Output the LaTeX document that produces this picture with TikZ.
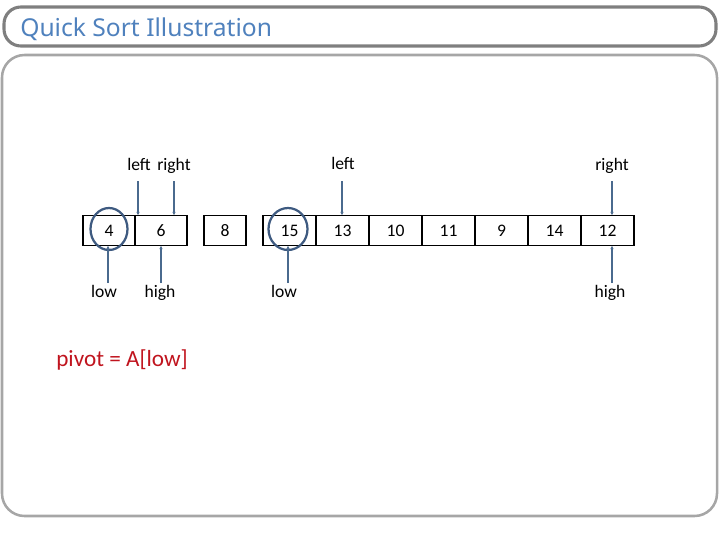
\documentclass[tikz,border=0pt]{standalone}
\usepackage{fontspec}
\setmainfont{Carlito}
\newfontfamily\titlefont{Noto Sans}
\usetikzlibrary{positioning, arrows.meta}

\definecolor{framedark}{HTML}{7F7F7F}
\definecolor{framelight}{HTML}{A6A6A6}
\definecolor{titleblue}{HTML}{4F81BD}
\definecolor{ptrblue}{HTML}{4A6A8E}
\definecolor{ringblue}{HTML}{3E5A80}
\definecolor{pivotred}{HTML}{C0141E}

\begin{document}
\begin{tikzpicture}[x=0.025cm, y=-0.025cm,
    every node/.style={font=\fontsize{12.5}{14}\selectfont},
    cell/.style={rectangle, draw, line width=1.1pt, outer sep=0pt, minimum width=1.325cm, minimum height=0.75cm, inner sep=0pt},
    lbl/.style={inner sep=1pt, text height=1.6ex, text depth=0.4ex},
    ptr/.style={-{Latex[length=2.5pt, width=2.5pt]}, line width=1.1pt, draw=ptrblue, fill=ptrblue},
    ring/.style={draw=ringblue, line width=1.6pt},
    titlebox/.style={draw=framedark, line width=2.2pt, rounded corners=12},
    bodybox/.style={draw=framelight, line width=1.8pt, rounded corners=16}]

  \useasboundingbox (0,0) rectangle (720,540);

  % frames
  \draw[titlebox] (4,7) rectangle (716,46);
  \draw[bodybox] (2,55) rectangle (717,516);
  \node[anchor=west, text=titleblue, font=\titlefont\fontsize{17.5}{20}\selectfont, inner sep=0pt] (title) at (20,29) {Quick Sort Illustration};

  % first part: 4 6 | 8
  \node[cell, minimum width=1.3cm] (c4) at (109,230.5) {4};
  \node[cell, minimum width=1.3cm, right=0pt of c4] (c6) {6};
  \node[cell, minimum width=1.05cm] (c8) at (225,230.5) {8};

  % second part
  \node[cell] (c15) at (289.5,230.5) {15};
  \node[cell, right=0pt of c15] (c13) {13};
  \node[cell, right=0pt of c13] (c10) {10};
  \node[cell, right=0pt of c10] (c11) {11};
  \node[cell, right=0pt of c11] (c9)  {9};
  \node[cell, right=0pt of c9]  (c14) {14};
  \node[cell, right=0pt of c14] (c12) {12};

  % pivots
  \draw[ring] (109,229) ellipse [x radius=18.5, y radius=21];
  \draw[ring] (288,229) ellipse [x radius=19.5, y radius=21];

  % labels
  \node[lbl] (left1)  at (139,166) {left};
  \node[lbl] (right1) at (174,166) {right};
  \node[lbl] (low1)   at (104,293) {low};
  \node[lbl] (high1)  at (160,293) {high};
  \node[lbl] (left2)  at (343,165) {left};
  \node[lbl] (right2) at (612,166) {right};
  \node[lbl] (low2)   at (284,293) {low};
  \node[lbl] (high2)  at (610,293) {high};

  % pointer tails
  \coordinate (tl1) at (138,181);
  \coordinate (tr1) at (174,181);
  \coordinate (tlo1) at (108,283);
  \coordinate (thi1) at (161,283);
  \coordinate (tl2) at (342,181);
  \coordinate (tr2) at (612,181);
  \coordinate (tlo2) at (288,283);
  \coordinate (thi2) at (612,283);

  \draw[ptr] (tl1) -- (tl1 |- c6.north);
  \draw[ptr] (tr1) -- (tr1 |- c6.north);
  \draw[ptr] (tlo1) -- (tlo1 |- c4.south);
  \draw[ptr] (thi1) -- (thi1 |- c6.south);
  \draw[ptr] (tl2) -- (tl2 |- c13.north);
  \draw[ptr] (tr2) -- (tr2 |- c12.north);
  \draw[ptr] (tlo2) -- (tlo2 |- c15.south);
  \draw[ptr] (thi2) -- (thi2 |- c12.south);

  \node[anchor=west, text=pivotred, font=\fontsize{16.5}{19}\selectfont, inner sep=0pt] (pivot) at (56,360) {pivot = A[low]};
\end{tikzpicture}
\end{document}
